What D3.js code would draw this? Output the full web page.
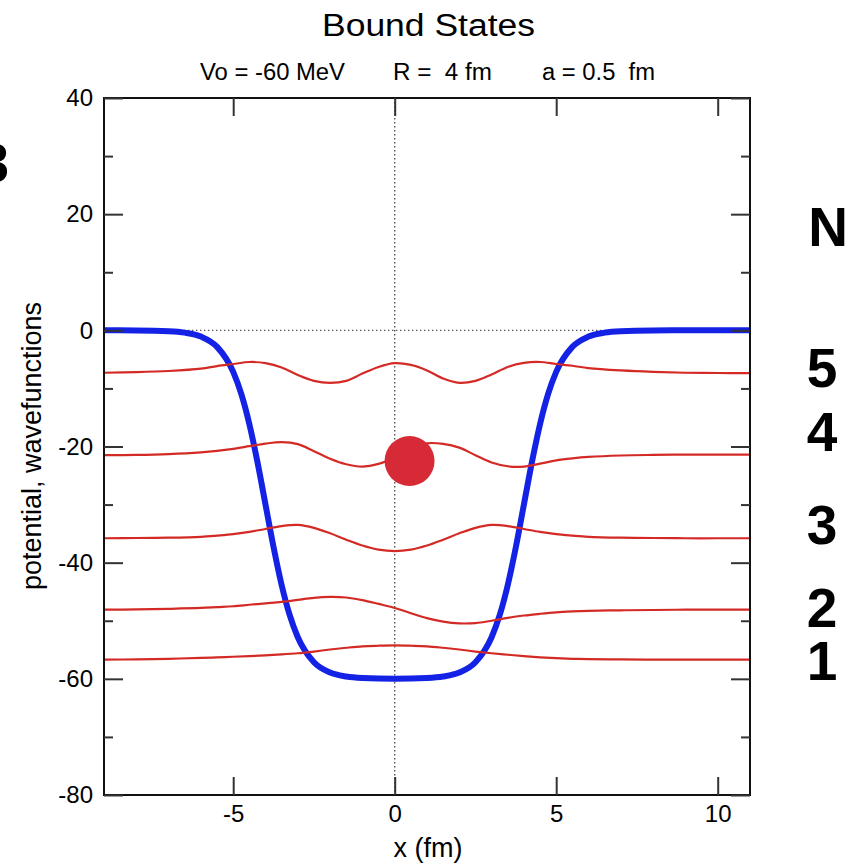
<!DOCTYPE html>
<html>
<head>
<meta charset="utf-8">
<script src="https://cdn.jsdelivr.net/npm/d3@7"></script>
<style>
  html, body { margin: 0; padding: 0; background: #fff; }
  svg { display: block; }
  text { font-family: "Liberation Sans", Arial, Helvetica, sans-serif; fill: #000; white-space: pre; }
</style>
</head>
<body>
<svg id="chart" width="849" height="865"></svg>
<script>
// Woods-Saxon well (MeV) sampled along x (fm)
const potX = [-9, -8, -7, -6.5, -6, -5.5, -5, -4.75, -4.5, -4.25, -4, -3.75, -3.5, -3.25, -3, -2.5, -2, -1.5, -1, 0,
              1, 1.5, 2, 2.5, 3, 3.25, 3.5, 3.75, 4, 4.25, 4.5, 4.75, 5, 5.5, 6, 6.5, 7, 8, 9, 10, 11];
const potV = [0, -0.02, -0.15, -0.4, -1.08, -2.85, -7.15, -10.95, -16.14, -22.65, -30, -37.35, -43.86, -49.05, -52.85, -57.15, -58.92, -59.6, -59.85, -59.98,
              -59.85, -59.6, -58.92, -57.15, -52.85, -49.05, -43.86, -37.35, -30, -22.65, -16.14, -10.95, -7.15, -2.85, -1.08, -0.4, -0.15, -0.02, 0, 0, 0];

// Bound-state wavefunctions, each drawn offset by its energy level
const waveX = [-9, -8, -7, -6, -5.5, -5, -4.5, -4, -3.5, -3, -2.5, -2, -1.5, -1, -0.5, 0,
               0.5, 1, 1.5, 2, 2.5, 3, 3.5, 4, 4.5, 5, 5.5, 6, 7, 8, 9, 10, 11];
const wave1 = [-56.7, -56.65, -56.55, -56.4, -56.3, -56.2, -56.1, -55.95, -55.8, -55.6, -55.3, -54.95, -54.65, -54.4, -54.3, -54.25,
               -54.3, -54.4, -54.65, -54.95, -55.3, -55.6, -55.85, -56.1, -56.3, -56.45, -56.55, -56.6, -56.65, -56.7, -56.7, -56.7, -56.7];
const wave2 = [-48.1, -48.05, -47.95, -47.8, -47.65, -47.5, -47.25, -47.0, -46.75, -46.4, -46.05, -45.9, -46.0, -46.45, -47.1, -47.8,
               -48.7, -49.55, -50.15, -50.45, -50.4, -50.0, -49.5, -49.1, -48.8, -48.55, -48.4, -48.3, -48.2, -48.15, -48.1, -48.1, -48.1];
const wave3 = [-35.8, -35.75, -35.7, -35.55, -35.35, -35.1, -34.7, -34.2, -33.7, -33.5, -34.0, -34.95, -36.05, -37.05, -37.75, -38.0,
               -37.75, -37.05, -36.05, -34.95, -34.0, -33.5, -33.7, -34.2, -34.7, -35.1, -35.35, -35.55, -35.7, -35.75, -35.8, -35.8, -35.8];
const wave4 = [-21.5, -21.45, -21.3, -21.0, -20.75, -20.4, -19.95, -19.5, -19.25, -19.6, -20.8, -22.1, -23.05, -23.45, -23.0, -21.9,
               -20.4, -19.45, -19.55, -20.2, -21.5, -22.75, -23.4, -23.45, -22.95, -22.4, -22.05, -21.8, -21.55, -21.45, -21.4, -21.4, -21.4];
const wave5 = [-7.3, -7.2, -7.0, -6.6, -6.15, -5.8, -5.45, -5.65, -6.4, -7.7, -8.7, -9.05, -8.7, -7.45, -6.3, -5.65,
               -5.95, -6.9, -8.3, -9.05, -8.7, -7.6, -6.3, -5.6, -5.45, -5.8, -6.1, -6.5, -6.9, -7.15, -7.3, -7.35, -7.35];
const waves = [wave1, wave2, wave3, wave4, wave5];

// Marker dot (x in fm, value)
const dotPoint = { x: 0.46, y: -22.5 };

// Level numbers down the right side, and where they sit
const levelNames = ["1", "2", "3", "4", "5"];
const levelLabelY = [-56.8, -47.7, -33.3, -17.3, -6.4];

// Axis ticks
const xTicks = [-5, 0, 5, 10];
const yMajorTicks = [-80, -60, -40, -20, 0, 20, 40];
const yMinorTicks = [-70, -50, -30, -10, 10, 30];

const titleText = "Bound States";
const subtitleParts = ["Vo = -60 MeV", "R =  4 fm", "a = 0.5  fm"];
const xLabel = "x (fm)";
const yLabel = "potential, wavefunctions";

const svg = d3.select("#chart");
const plot = { left: 104, right: 750, top: 98, bottom: 795 };

const x = d3.scaleLinear().domain([-9, 11]).range([plot.left, plot.right]);
const y = d3.scaleLinear().domain([-80, 40]).range([plot.bottom, plot.top]);

svg.append("defs").append("clipPath").attr("id", "plotclip")
  .append("rect")
  .attr("x", plot.left).attr("y", plot.top)
  .attr("width", plot.right - plot.left).attr("height", plot.bottom - plot.top);

// Zero reference lines (dotted)
const refs = svg.append("g").attr("stroke", "#555").attr("stroke-width", 1.4)
  .attr("stroke-dasharray", "1.4,2.6");
refs.append("line").attr("x1", x(-9)).attr("x2", x(11)).attr("y1", y(0)).attr("y2", y(0));
refs.append("line").attr("x1", x(0)).attr("x2", x(0)).attr("y1", y(40)).attr("y2", y(-80));

const g = svg.append("g").attr("clip-path", "url(#plotclip)");

// Potential well
const potLine = d3.line()
  .x((d, i) => x(potX[i]))
  .y(d => y(d))
  .curve(d3.curveMonotoneX);
g.append("path")
  .datum(potV)
  .attr("d", potLine)
  .attr("fill", "none")
  .attr("stroke", "#1422e6")
  .attr("stroke-width", 6)
  .attr("stroke-linejoin", "round");

// Wavefunctions
const waveLine = d3.line()
  .x((d, i) => x(waveX[i]))
  .y(d => y(d))
  .curve(d3.curveCatmullRom.alpha(0.5));
g.selectAll("path.wave")
  .data(waves)
  .join("path")
  .attr("class", "wave")
  .attr("d", waveLine)
  .attr("fill", "none")
  .attr("stroke", "#d42a26")
  .attr("stroke-width", 2.2);

// Marker
svg.append("circle")
  .attr("cx", x(dotPoint.x))
  .attr("cy", y(dotPoint.y))
  .attr("r", 25)
  .attr("fill", "#d62a36");

// Frame
svg.append("rect")
  .attr("x", plot.left).attr("y", plot.top)
  .attr("width", plot.right - plot.left).attr("height", plot.bottom - plot.top)
  .attr("fill", "none").attr("stroke", "#111").attr("stroke-width", 2);

// Axes with inward ticks
const plain = d => String(d);
function styleAxis(sel) {
  sel.select(".domain").remove();
  sel.selectAll(".tick line").attr("stroke", "#333").attr("stroke-width", 2);
  sel.selectAll(".tick text").attr("font-size", 24).attr("fill", "#000")
    .attr("font-family", "Liberation Sans, Arial, sans-serif");
}

svg.append("g").attr("transform", `translate(0,${plot.bottom})`)
  .call(d3.axisBottom(x).tickValues(xTicks).tickSize(-18).tickPadding(10).tickFormat(plain))
  .call(styleAxis);
svg.append("g").attr("transform", `translate(0,${plot.top})`)
  .call(d3.axisTop(x).tickValues(xTicks).tickSize(-18).tickFormat(""))
  .call(styleAxis);

svg.append("g").attr("transform", `translate(${plot.left},0)`)
  .call(d3.axisLeft(y).tickValues(yMajorTicks).tickSize(-19).tickPadding(11).tickFormat(plain))
  .call(styleAxis);
svg.append("g").attr("transform", `translate(${plot.left},0)`)
  .call(d3.axisLeft(y).tickValues(yMinorTicks).tickSize(-9).tickFormat(""))
  .call(styleAxis);
svg.append("g").attr("transform", `translate(${plot.right},0)`)
  .call(d3.axisRight(y).tickValues(yMajorTicks).tickSize(-19).tickFormat(""))
  .call(styleAxis);
svg.append("g").attr("transform", `translate(${plot.right},0)`)
  .call(d3.axisRight(y).tickValues(yMinorTicks).tickSize(-9).tickFormat(""))
  .call(styleAxis);

// Titles
svg.append("text")
  .attr("x", 322).attr("y", 36)
  .attr("font-size", 31)
  .attr("textLength", 213)
  .attr("lengthAdjust", "spacingAndGlyphs")
  .text(titleText);

const subX = [200, 393, 542];
const subW = [145, 99, 113];
svg.selectAll("text.sub")
  .data(subtitleParts)
  .join("text")
  .attr("class", "sub")
  .attr("x", (d, i) => subX[i]).attr("y", 80)
  .attr("font-size", 23)
  .attr("textLength", (d, i) => subW[i])
  .attr("lengthAdjust", "spacingAndGlyphs")
  .text(d => d);

svg.append("text")
  .attr("x", 428).attr("y", 857)
  .attr("text-anchor", "middle")
  .attr("font-size", 27)
  .text(xLabel);

svg.append("text")
  .attr("transform", `translate(41,446) rotate(-90)`)
  .attr("text-anchor", "middle")
  .attr("font-size", 27)
  .text(yLabel);

// Level numbers on the right
const bold = { family: "DejaVu Sans, Verdana, sans-serif", size: 55 };
svg.selectAll("text.level")
  .data(levelNames)
  .join("text")
  .attr("class", "level")
  .attr("x", 822).attr("y", (d, i) => y(levelLabelY[i]))
  .attr("dy", "0.36em")
  .attr("text-anchor", "middle")
  .attr("font-family", bold.family)
  .attr("font-weight", "bold")
  .attr("font-size", bold.size)
  .text(d => d);

svg.append("text")
  .attr("x", 828).attr("y", 226)
  .attr("dy", "0.36em")
  .attr("text-anchor", "middle")
  .attr("font-family", bold.family)
  .attr("font-weight", "bold")
  .attr("font-size", bold.size)
  .text("N");

svg.append("text")
  .attr("x", 9).attr("y", 162)
  .attr("dy", "0.36em")
  .attr("text-anchor", "end")
  .attr("font-family", bold.family)
  .attr("font-weight", "bold")
  .attr("font-size", bold.size)
  .text("3");
</script>
</body>
</html>
